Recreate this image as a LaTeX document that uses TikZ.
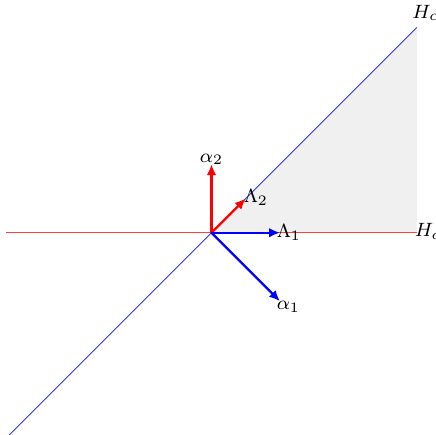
\documentclass[tikz,border=0pt]{standalone}
\usetikzlibrary{arrows.meta, positioning}
\definecolor{CH}{RGB}{240,240,240}

\begin{document}
\begin{tikzpicture}[
  wall/.style={draw=#1, thin},
  vec/.style={draw=#1, line width=1pt, -{Latex[length=4.5pt,width=4pt]}},
  lbl/.style={inner sep=0.5pt, font=\fontsize{8}{9}\selectfont}
]
% frame (labels on the right are cut)
\useasboundingbox (-3.09,-2.95) rectangle (3.28,3.40);
\clip (-3.09,-2.95) rectangle (3.28,3.40);

% Points
\coordinate (O)  at (0,0);
\coordinate (Hl) at (-3,0);
\coordinate (Hr) at (3,0);
\coordinate (Hb) at (-3,-3);
\coordinate (Ht) at (3,3);
\coordinate (a1) at (1,-1);
\coordinate (a2) at (0,1);
\coordinate (L1) at (1,0);
\coordinate (L2) at (0.5,0.5);

% Fundamental chamber
\fill[CH] (O) -- (Hr) -- (Ht) -- cycle;

% Walls
\draw[wall=red!75] (Hl) -- (Hr);
\draw[wall=blue!80] (Hb) -- (Ht);
\node[lbl, anchor=south west, xshift=-2.5pt, yshift=1pt] (h1) at (Ht) {$H_{\alpha_1}$};
\node[lbl, anchor=west, xshift=-1.5pt] (h2) at (Hr) {$H_{\alpha_2}$};

% Roots and weights
\draw[vec=red] (O) -- (a2);
\draw[vec=red] (O) -- (L2);
\draw[vec=blue] (O) -- (L1);
\draw[vec=blue] (O) -- (a1);
\node[lbl, anchor=south, yshift=-1pt] (ta2) at (a2) {$\alpha_2$};
\node[lbl, anchor=west, xshift=-1.5pt, yshift=0.5pt] (tL2) at (L2) {$\Lambda_2$};
\node[lbl, anchor=west, xshift=-2pt] (tL1) at (L1) {$\Lambda_1$};
\node[lbl, anchor=north west, xshift=-2pt, yshift=0.5pt] (ta1) at (a1) {$\alpha_1$};
\end{tikzpicture}
\end{document}
